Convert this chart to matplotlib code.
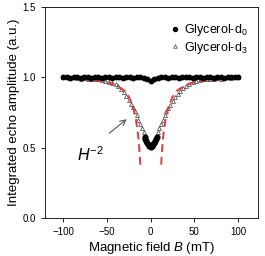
import matplotlib
matplotlib.use('Agg')
import matplotlib.pyplot as plt

plt.rcParams['font.family'] = ['Liberation Sans', 'DejaVu Sans']
plt.rcParams['mathtext.fontset'] = 'custom'
plt.rcParams['mathtext.rm'] = 'Liberation Sans'
plt.rcParams['mathtext.it'] = 'Liberation Sans:italic'

# Glycerol-d0 (filled circles)
b_d0 = [-100, -96, -92, -88, -84, -80, -76, -72, -68, -64, -60, -56, -52, -48, -44, -40, -36, -32, -28, -24,
        -20, -16, -12, -8, -4, 0, 4, 8, 12, 16, 20, 24, 28, 32, 36, 40, 44, 48, 52, 56, 60, 64, 68, 72, 76,
        80, 84, 88, 92, 96, 100]
amp_d0 = [1.0, 1.003, 0.998, 1.004, 1.0, 0.997, 1.003, 1.0, 0.998, 1.004, 1.0, 0.997, 1.002, 1.0, 0.998, 1.003,
          1.0, 0.997, 1.002, 1.0, 0.998, 1.002, 0.999, 0.996, 0.985, 0.972, 0.985, 0.997, 1.0, 1.003, 0.998,
          1.002, 1.0, 0.997, 1.003, 1.0, 1.005, 0.998, 1.002, 1.0, 0.997, 1.003, 1.0, 0.998, 1.004, 1.0, 0.998,
          1.005, 1.0, 1.002, 1.0]

# Glycerol-d3 (open triangles)
b_d3 = [-100, -96, -92, -88, -84, -80, -76, -72, -68, -64, -60, -56, -52, -48, -44, -40, -37, -34, -31, -28,
        -25, -22, -20, -18, -16, -14, -12, -10, -8, 8, 10, 12, 14, 16, 18, 20, 22, 25, 28, 31, 34, 37, 40, 44,
        48, 52, 56, 60, 64, 68, 72, 76, 80, 84, 88, 92, 96, 100]
amp_d3 = [1.0, 1.0, 0.995, 1.0, 0.995, 0.99, 0.995, 0.99, 0.99, 0.985, 0.985, 0.98, 0.975, 0.97, 0.96, 0.95,
          0.935, 0.915, 0.895, 0.87, 0.84, 0.81, 0.79, 0.76, 0.73, 0.7, 0.67, 0.64, 0.61, 0.61, 0.64, 0.67,
          0.7, 0.73, 0.76, 0.78, 0.8, 0.83, 0.86, 0.885, 0.905, 0.925, 0.94, 0.955, 0.965, 0.975, 0.98, 0.985,
          0.985, 0.99, 0.99, 0.995, 0.99, 0.995, 1.0, 0.995, 1.0, 1.0]

# dense central points of Glycerol-d3 (appear as a black blob)
b_core = [-7, -6, -5, -4, -3, -2, -1, 0, 1, 2, 3, 4, 5, 6, 7]
amp_core = [0.575, 0.56, 0.545, 0.535, 0.525, 0.515, 0.51, 0.508, 0.51, 0.515, 0.525, 0.535, 0.545,
            0.56, 0.575]

# H^-2 fit
b_fit = [12, 13, 14, 15, 17, 20, 25, 30, 40, 50, 60, 70, 80, 90, 100]
amp_fit = [0.38, 0.489, 0.559, 0.616, 0.701, 0.784, 0.862, 0.904, 0.946, 0.965, 0.976, 0.982, 0.987, 0.989, 0.991]

fig = plt.figure(figsize=(2.65, 2.56), dpi=100)
ax = fig.add_axes([0.17, 0.148, 0.804, 0.825])

ax.plot(b_d3, amp_d3, '^', mfc='none', mec='#3a3a3a', ms=2.8, mew=0.5, ls='none',
        label='Glycerol-d$_3$', zorder=2)
ax.plot(b_core, amp_core, 'o', color='black', ms=3.4, ls='none', zorder=3)
ax.plot([-b for b in b_fit], amp_fit, color='#e8383d', lw=1.4, dashes=(4, 2.5), zorder=2.5)
ax.plot(b_fit, amp_fit, color='#e8383d', lw=1.4, dashes=(4, 2.5), zorder=2.5)
ax.plot(b_d0, amp_d0, 'o', color='black', ms=3.2, ls='none', label='Glycerol-d$_0$', zorder=3)

ax.annotate('', xy=(-25, 0.715), xytext=(-50, 0.59),
            arrowprops=dict(arrowstyle='->', color='#555555', lw=0.8))
ax.text(-69, 0.45, '$H^{\\mathrm{-2}}$', fontsize=11.5, ha='center', va='center')

ax.set_xlim(-121, 123)
ax.set_ylim(0, 1.5)
ax.set_xticks([-100, -50, 0, 50, 100])
ax.set_yticks([0.0, 0.5, 1.0, 1.5])
ax.set_yticklabels(['0.0', '0.5', '1.0', '1.5'])
ax.tick_params(labelsize=7, direction='out', length=3, width=0.6)
for s in ax.spines.values():
    s.set_linewidth(0.6)
ax.set_xlabel('Magnetic field $B$ (mT)', fontsize=9.5, labelpad=2)
ax.set_ylabel('Integrated echo amplitude (a.u.)', fontsize=9.5, labelpad=2)

h, l = ax.get_legend_handles_labels()
ax.legend(h[::-1], l[::-1], loc='upper right', fontsize=9, frameon=False, handlelength=0.5,
          handletextpad=0.4, borderaxespad=0.3, labelspacing=0.15, bbox_to_anchor=(0.99, 0.97),
          markerscale=0.9)

fig.savefig('out.png', dpi=100)
